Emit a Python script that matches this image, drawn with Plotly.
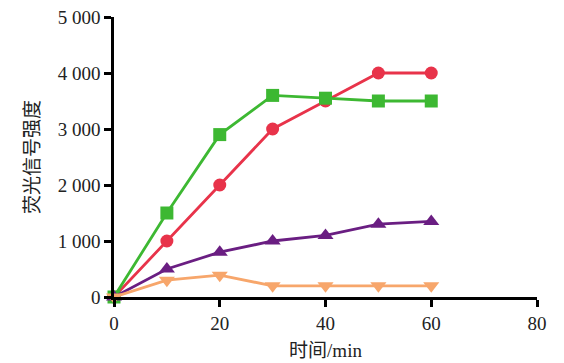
import plotly.graph_objects as go

time_min = [0, 10, 20, 30, 40, 50, 60]
red_vals = [0, 1000, 2000, 3000, 3500, 4000, 4000]
green_vals = [0, 1500, 2900, 3600, 3550, 3500, 3500]
purple_vals = [0, 500, 800, 1000, 1100, 1300, 1350]
orange_vals = [0, 300, 390, 200, 200, 200, 200]

y_tickvals = [0, 1000, 2000, 3000, 4000, 5000]
y_ticktext = ["0", "1 000", "2 000", "3 000", "4 000", "5 000"]
x_tickvals = [0, 20, 40, 60, 80]

series = [
    (red_vals, "#E8334A", "circle", 13),
    (green_vals, "#3DB832", "square", 13),
    (purple_vals, "#6A1E82", "triangle-up", 14),
    (orange_vals, "#F7A66B", "triangle-down", 14),
]

fig = go.Figure()
for vals, color, sym, sz in series:
    fig.add_trace(go.Scatter(
        x=time_min, y=vals, mode="lines+markers",
        line=dict(color=color, width=2.8),
        marker=dict(symbol=sym, size=sz, color=color),
        cliponaxis=False, showlegend=False,
    ))

serif = "Liberation Serif, Noto Sans CJK SC, serif"
fig.update_layout(
    width=564, height=363,
    margin=dict(l=114, r=27, t=17, b=66),
    paper_bgcolor="white", plot_bgcolor="white",
    font=dict(family=serif, size=19, color="#222"),
    xaxis=dict(
        range=[0, 80], tickvals=x_tickvals, showgrid=False, zeroline=False,
        showline=True, linecolor="black", linewidth=2.5, automargin=False,
        ticks="outside", ticklen=7, tickwidth=2.5, tickcolor="black",
        title=dict(text="时间/min", font=dict(family=serif, size=19), standoff=12),
    ),
    yaxis=dict(
        range=[0, 5000], tickvals=y_tickvals, ticktext=y_ticktext,
        showgrid=False, zeroline=False, automargin=False,
        showline=True, linecolor="black", linewidth=2.5,
        ticks="outside", ticklen=7, tickwidth=2.5, tickcolor="black",
        ticklabeloverflow="allow",
        title=dict(text="荧光信号强度", font=dict(family=serif, size=19), standoff=14),
    ),
)

fig.write_html(
    "out.html",
    config={"displayModeBar": False},
    post_script="document.body.style.margin='0';document.body.style.overflow='hidden';",
)
